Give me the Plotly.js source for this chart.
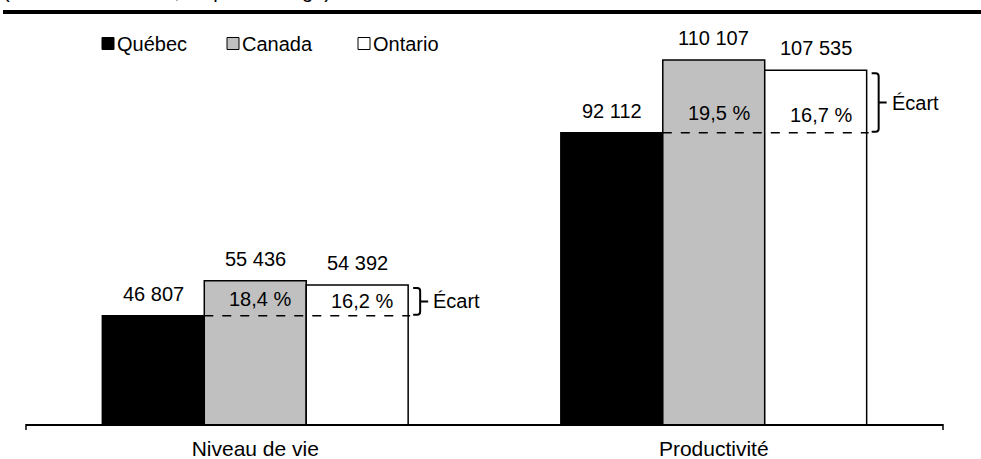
<!DOCTYPE html>
<html>
<head>
<meta charset="utf-8">
<script src="https://cdn.plot.ly/plotly-3.0.1.min.js"></script>
<style>html,body{margin:0;padding:0;background:#fff;}#chart{width:981px;height:459px;}</style>
</head>
<body>
<div id="chart"></div>
<script>
// ---- Data ----
const categories = ["Niveau de vie", "Productivité"];
const seriesNames = ["Québec", "Canada", "Ontario"];
const quebec = [46807, 92112];
const canada = [55436, 110107];
const ontario = [54392, 107535];
const ecartCanada = [18.4, 19.5];
const ecartOntario = [16.2, 16.7];
const ecartLabel = "Écart";
const subtitle = "(en dollars de 2022, en pourcentage)";

// ---- Layout constants ----
const W = 981, H = 459;
const M = {l: 26, r: 38, t: 20, b: 35};
const plotW = W - M.l - M.r, plotH = H - M.t - M.b;
const yMin = 20000, yMax = 120000;
const bargap = 0.333;
const barW = (1 - bargap) / 3;
const FONT = "Liberation Sans, Arial, Helvetica, sans-serif";
const FS = 20;
const pxX = 2 / plotW;                 // category units per pixel
const pxY = (yMax - yMin) / plotH;     // data units per pixel
const px2paperX = p => (p - M.l) / plotW;
const px2paperY = p => (H - M.b - p) / plotH;
const fmt = v => String(v).replace(/\B(?=(\d{3})+(?!\d))/g, " ");
const fmtPct = v => v.toFixed(1).replace(".", ",") + " %";

const colors = ["#000000", "#c0c0c0", "#ffffff"];
const seriesVals = [quebec, canada, ontario];

const traces = seriesVals.map((vals, k) => ({
  type: "bar",
  name: seriesNames[k],
  x: categories,
  y: vals,
  marker: {color: colors[k], line: {color: "#000", width: 1.5}},
  hoverinfo: "skip",
  showlegend: false
}));

const shapes = [];
const annotations = [];

categories.forEach((c, i) => {
  const offs = [-barW, 0, barW];
  // value labels
  seriesVals.forEach((vals, k) => {
    annotations.push({
      xref: "x", yref: "y", x: i + offs[k], y: vals[i],
      text: fmt(vals[i]), showarrow: false, yanchor: "middle", yshift: 22,
      font: {family: FONT, size: FS, color: "#000"}
    });
  });
  // dashed reference line at Québec level
  shapes.push({
    type: "line", xref: "x", yref: "y",
    x0: i - barW / 2, x1: i + 1.5 * barW + 2 * pxX,
    y0: quebec[i], y1: quebec[i],
    line: {color: "#000", width: 1.5, dash: "dash"}
  });
  // percent labels
  const pShift = 16 + 3 * i;
  annotations.push({
    xref: "x", yref: "y", x: i, y: quebec[i], text: fmtPct(ecartCanada[i]),
    showarrow: false, yanchor: "middle", yshift: pShift + 1, xshift: 5,
    font: {family: FONT, size: FS, color: "#000"}
  });
  annotations.push({
    xref: "x", yref: "y", x: i + barW, y: quebec[i], text: fmtPct(ecartOntario[i]),
    showarrow: false, yanchor: "middle", yshift: pShift - 1, xshift: 5,
    font: {family: FONT, size: FS, color: "#000"}
  });
  // brace
  const x0 = i + 1.5 * barW + 5 * pxX;
  const x1 = x0 + 7 * pxX;
  const x2 = x1 + 8 * pxX;
  const yt = ontario[i] - 3 * pxY;
  const yb = quebec[i] + 1 * pxY;
  const ym = (yt + yb) / 2;
  const rx = 3 * pxX, ry = 3 * pxY;
  const path = `M${x0},${yt} L${x1 - rx},${yt} Q${x1},${yt} ${x1},${yt - ry} L${x1},${ym} L${x2},${ym} M${x1},${ym} L${x1},${yb + ry} Q${x1},${yb} ${x1 - rx},${yb} L${x0},${yb}`;
  shapes.push({type: "path", xref: "x", yref: "y", path: path, line: {color: "#000", width: 2}});
  annotations.push({
    xref: "x", yref: "y", x: x2, y: ym, text: ecartLabel, showarrow: false,
    xanchor: "left", yanchor: "middle", xshift: 3,
    font: {family: FONT, size: FS, color: "#000"}
  });
});

// top thick rule and partial subtitle (cut off at the top edge, as in the reference)
shapes.push({type: "line", xref: "paper", yref: "paper",
  x0: px2paperX(3), x1: px2paperX(W + 2), y0: px2paperY(12), y1: px2paperY(12),
  line: {color: "#000", width: 4}});
annotations.push({xref: "paper", yref: "paper", x: px2paperX(1), y: px2paperY(4),
  xanchor: "left", yanchor: "bottom", text: subtitle, showarrow: false,
  font: {family: FONT, size: FS, color: "#000"}});

// axis end ticks
[0, 1].forEach(xp => shapes.push({type: "line", xref: "paper", yref: "paper",
  x0: xp, x1: xp, y0: 0, y1: px2paperY(430), line: {color: "#000", width: 1.5}}));

// custom legend
const legX = [102, 227, 358];
seriesNames.forEach((n, k) => {
  shapes.push({type: "rect", xref: "paper", yref: "paper",
    x0: px2paperX(legX[k]), x1: px2paperX(legX[k] + 12),
    y0: px2paperY(49.5), y1: px2paperY(37.5),
    fillcolor: colors[k], line: {color: "#000", width: 1}});
  annotations.push({xref: "paper", yref: "paper", x: px2paperX(legX[k] + 13), y: px2paperY(43.5),
    xanchor: "left", yanchor: "middle", text: n, showarrow: false,
    font: {family: FONT, size: FS, color: "#000"}});
});

const layout = {
  width: W, height: H,
  margin: M,
  paper_bgcolor: "#fff", plot_bgcolor: "#fff",
  barmode: "group", bargap: bargap, bargroupgap: 0,
  showlegend: false,
  font: {family: FONT, size: FS, color: "#000"},
  xaxis: {
    type: "category", range: [-0.5, 1.5], showline: true, linecolor: "#000", linewidth: 1.5,
    ticks: "", showgrid: false, zeroline: false, fixedrange: true, ticklabelstandoff: 5,
    tickfont: {family: FONT, size: 21, color: "#000"}
  },
  yaxis: {
    range: [yMin, yMax], visible: false, showgrid: false, zeroline: false, fixedrange: true
  },
  shapes: shapes,
  annotations: annotations
};

Plotly.newPlot("chart", traces, layout, {displayModeBar: false, staticPlot: true});
</script>
</body>
</html>
